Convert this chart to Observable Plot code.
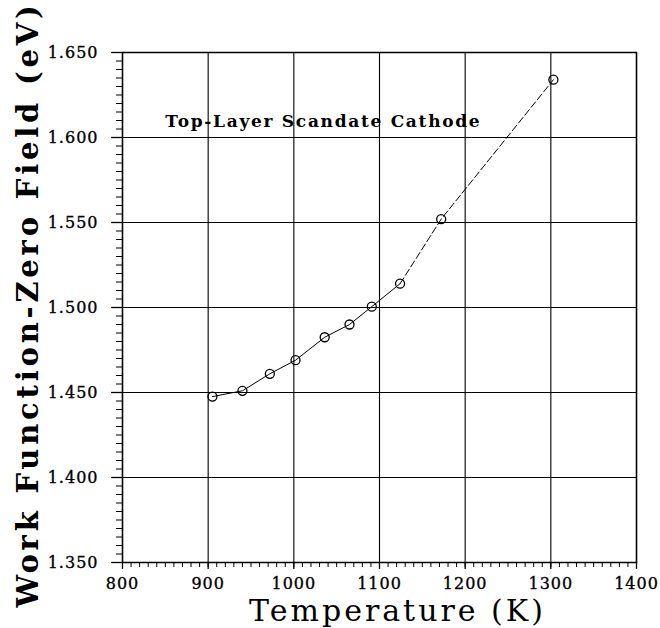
<!DOCTYPE html>
<html><head><meta charset="utf-8">
<script src="https://cdn.jsdelivr.net/npm/d3@7"></script>
<script src="https://cdn.jsdelivr.net/npm/@observablehq/plot@0.6"></script>
<style>
body{margin:0;background:#fff}
#chart svg{display:block;background:#fff}
.ticklab text{letter-spacing:1px;font-size:16px;font-family:'DejaVu Serif',serif;stroke:#000;stroke-width:0.35px}
.xtitle text{letter-spacing:3px}
.ytitle text{letter-spacing:3.8px}
.ann text{letter-spacing:1.7px}
</style></head><body><div id="chart"></div>
<script>
// Data
const temperature = [905, 940, 972, 1002, 1036, 1065, 1091, 1124, 1172, 1303];
const workFunction = [1.4476, 1.451, 1.461, 1.469, 1.4825, 1.490, 1.5005, 1.514, 1.552, 1.634];
const xTicks = [800, 900, 1000, 1100, 1200, 1300, 1400];
const yTicks = [1.35, 1.40, 1.45, 1.50, 1.55, 1.60, 1.65];
const xTitle = ["Temperature (K)"];
const yTitle = ["Work Function-Zero Field (eV)"];
const annotation = ["Top-Layer Scandate Cathode"];
const annotationX = [850];
const annotationY = [1.606];

const points = temperature.map((t, i) => ({t, w: workFunction[i]}));
const solidPart = points.slice(0, 8);
const dashedPart = points.slice(7);
const xMinor = d3.range(800, 1401, 10);
const yMinor = d3.range(0, 61).map(i => +(1.35 + i * 0.005).toFixed(3));
const ann = annotation.map((s, i) => ({s, x: annotationX[i], y: annotationY[i]}));
const serif = "'DejaVu Serif', serif";

const chart = Plot.plot({
  width: 660,
  height: 628,
  marginLeft: 122,
  marginRight: 24,
  marginTop: 52,
  marginBottom: 66,
  style: {fontFamily: serif, fontSize: "16px", color: "#000", background: "#fff"},
  x: {domain: [800, 1400], axis: null},
  y: {domain: [1.35, 1.65], axis: null},
  marks: [
    Plot.ruleX(xTicks, {stroke: "#000", strokeWidth: 1.1}),
    Plot.ruleY(yTicks, {stroke: "#000", strokeWidth: 1.1}),
    Plot.frame({stroke: "#000", strokeWidth: 1.5}),
    Plot.axisX({ticks: xMinor, tickSize: 5, fill: "none", label: null, strokeWidth: 1}),
    Plot.axisY({ticks: yMinor, tickSize: 6, fill: "none", label: null, strokeWidth: 1}),
    Plot.axisX({ticks: xTicks, tickSize: 7, tickPadding: 8, tickFormat: d => String(d), label: null, fontSize: 16, strokeWidth: 1.3, className: "ticklab"}),
    Plot.axisY({ticks: yTicks, tickSize: 11, tickPadding: 13, tickFormat: d3.format(".3f"), label: null, fontSize: 16, strokeWidth: 1.3, className: "ticklab"}),
    Plot.line(solidPart, {x: "t", y: "w", stroke: "#000", strokeWidth: 1}),
    Plot.line(dashedPart, {x: "t", y: "w", stroke: "#000", strokeWidth: 1, strokeDasharray: "7,3"}),
    Plot.dot(points, {x: "t", y: "w", r: 4.5, stroke: "#000", strokeWidth: 1.3, fill: "none"}),
    Plot.text(ann, {x: "x", y: "y", text: "s", textAnchor: "start", lineAnchor: "bottom", fontWeight: "bold", fontSize: 17, fill: "#000", className: "ann"}),
    Plot.text(xTitle, {frameAnchor: "bottom", dy: 58.5, dx: 18, lineAnchor: "bottom", fontSize: 30, fill: "#000", className: "xtitle"}),
    Plot.text(yTitle, {frameAnchor: "left", dx: -94, dy: -3, rotate: -90, textAnchor: "middle", lineAnchor: "middle", fontSize: 29, fontWeight: "bold", fill: "#000", className: "ytitle"})
  ]
});
document.getElementById("chart").append(chart);
</script></body></html>
